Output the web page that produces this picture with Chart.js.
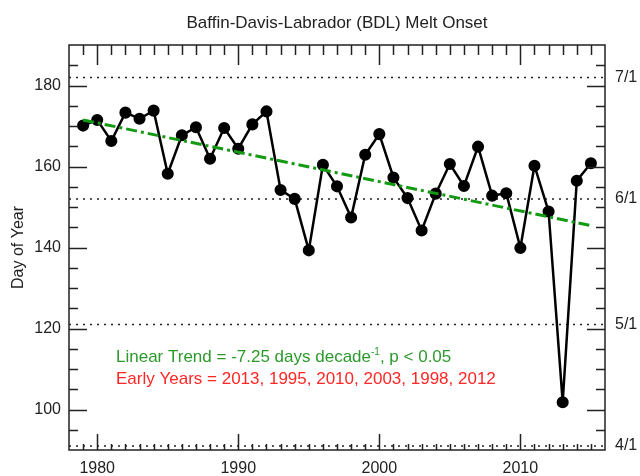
<!DOCTYPE html>
<html>
<head>
<meta charset="utf-8">
<script src="https://cdn.jsdelivr.net/npm/chart.js@4.4.0/dist/chart.umd.min.js"></script>
<style>
  html, body { margin: 0; padding: 0; background: #fff; }
  #wrap { width: 640px; height: 476px; }
</style>
</head>
<body>
<div id="wrap"><canvas id="Chart" width="640" height="476"></canvas></div>
<script>
// melt onset, day of year
const years = [1979, 1980, 1981, 1982, 1983, 1984, 1985, 1986, 1987, 1988,
  1989, 1990, 1991, 1992, 1993, 1994, 1995, 1996, 1997, 1998,
  1999, 2000, 2001, 2002, 2003, 2004, 2005, 2006, 2007, 2008,
  2009, 2010, 2011, 2012, 2013, 2014, 2015];
const onset = [170.1, 171.5, 166.3, 173.3, 171.8, 173.8, 158.2, 167.7, 169.7, 161.9,
  169.5, 164.4, 170.4, 173.6, 154.2, 152.0, 139.3, 160.4, 155.1, 147.4,
  162.9, 168.0, 157.3, 152.2, 144.2, 153.3, 160.6, 155.2, 164.9, 152.8,
  153.4, 139.9, 160.2, 148.9, 101.8, 156.5, 160.8];

// linear trend end points
const trendYears = [1979, 2015];
const trendValues = [171.5, 145.4];

// ticks
const yearTicks = [1980, 1990, 2000, 2010];
const dayTicks = [100, 120, 140, 160, 180];
const monthDays = [91, 121, 152, 182];
const monthLabels = ['4/1', '5/1', '6/1', '7/1'];

const xMin = 1978, xMax = 2016, yMin = 90, yMax = 190;
const FONT = "'Liberation Sans', Arial, Helvetica, sans-serif";

const refLines = monthDays.map(d => ({
  type: 'line',
  data: [{x: xMin, y: d}, {x: xMax, y: d}],
  borderColor: '#222',
  borderWidth: 1.5,
  borderDash: [2, 5],
  pointRadius: 0,
  order: 3
}));

// frame, inward ticks, title and notes
const decor = {
  id: 'decor',
  afterDatasetsDraw(chart) {
    const {ctx, chartArea: a, scales: {x, y}} = chart;
    ctx.save();
    ctx.strokeStyle = '#222';
    ctx.lineWidth = 1.5;
    ctx.beginPath();
    for (let v = 95; v < yMax; v += 5) {
      const py = Math.round(y.getPixelForValue(v)) + 0.5;
      const len = v % 20 === 0 ? 18 : 9;
      ctx.moveTo(a.left, py); ctx.lineTo(a.left + len, py);
      ctx.moveTo(a.right, py); ctx.lineTo(a.right - len, py);
    }
    for (let v = 1979; v < xMax; v++) {
      const px = Math.round(x.getPixelForValue(v)) + 0.5;
      const major = v % 10 === 0;
      ctx.moveTo(px, a.top); ctx.lineTo(px, a.top + (major ? 20 : 10));
      ctx.moveTo(px, a.bottom); ctx.lineTo(px, a.bottom - (major ? 16 : 6));
    }
    ctx.stroke();
    ctx.strokeRect(a.left, a.top, a.right - a.left, a.bottom - a.top);

    ctx.fillStyle = '#222';
    ctx.font = '17px ' + FONT;
    ctx.textAlign = 'center';
    ctx.textBaseline = 'alphabetic';
    ctx.fillText('Baffin-Davis-Labrador (BDL) Melt Onset', (a.left + a.right) / 2, 28);

    ctx.textAlign = 'left';
    let tx = 116;
    ctx.fillStyle = '#2b9a2b';
    const p1 = 'Linear Trend = -7.25 days decade';
    ctx.fillText(p1, tx, 362);
    tx += ctx.measureText(p1).width;
    ctx.font = '10px ' + FONT;
    ctx.fillText('-1', tx, 355);
    tx += ctx.measureText('-1').width;
    ctx.font = '17px ' + FONT;
    ctx.fillText(', p < 0.05', tx, 362);

    ctx.fillStyle = '#ff2626';
    ctx.fillText('Early Years = 2013, 1995, 2010, 2003, 1998, 2012', 116, 383.5);
    ctx.restore();
  }
};

const data = {
  datasets: [
    ...refLines,
    {
      type: 'line',
      label: 'Melt Onset',
      data: years.map((yr, i) => ({x: yr, y: onset[i]})),
      borderColor: '#000',
      backgroundColor: '#000',
      borderWidth: 2.5,
      pointRadius: 4.8,
      pointHoverRadius: 4.8,
      order: 2
    },
    {
      type: 'line',
      label: 'Trend',
      data: trendYears.map((yr, i) => ({x: yr, y: trendValues[i]})),
      borderColor: '#139a13',
      borderWidth: 3,
      borderDash: [11, 4, 3, 4],
      pointRadius: 0,
      order: 1
    }
  ]
};

const tickFont = {family: FONT, size: 16};

const config = {
  type: 'line',
  data,
  plugins: [decor],
  options: {
    responsive: false,
    animation: false,
    layout: { padding: { top: 45, left: 0, right: 0, bottom: 0 } },
    plugins: {
      legend: { display: false },
      tooltip: { enabled: false },
      title: { display: false }
    },
    scales: {
      x: {
        type: 'linear',
        min: xMin, max: xMax,
        afterBuildTicks: s => { s.ticks = yearTicks.map(v => ({value: v})); },
        afterFit: s => { s.height = 26; },
        grid: { display: false, drawTicks: false },
        border: { display: false },
        ticks: { font: tickFont, color: '#222', padding: 9, maxRotation: 0,
          callback: v => String(v) }
      },
      y: {
        min: yMin, max: yMax,
        afterBuildTicks: s => { s.ticks = dayTicks.map(v => ({value: v})); },
        afterFit: s => { s.width = 69; },
        grid: { display: false, drawTicks: false },
        border: { display: false },
        ticks: { font: tickFont, color: '#222', padding: 8, callback: v => String(v) },
        title: { display: true, text: 'Day of Year', font: tickFont, color: '#222',
          padding: { top: 9, bottom: 0 } }
      },
      y2: {
        position: 'right',
        min: yMin, max: yMax,
        afterBuildTicks: s => { s.ticks = monthDays.map(v => ({value: v})); },
        afterFit: s => { s.width = 35; },
        grid: { display: false, drawTicks: false },
        border: { display: false },
        ticks: { font: tickFont, color: '#222', padding: 10,
          callback: v => monthLabels[monthDays.indexOf(v)] }
      }
    }
  }
};

const myChart = new Chart(document.getElementById('Chart'), config);
</script>
</body>
</html>
